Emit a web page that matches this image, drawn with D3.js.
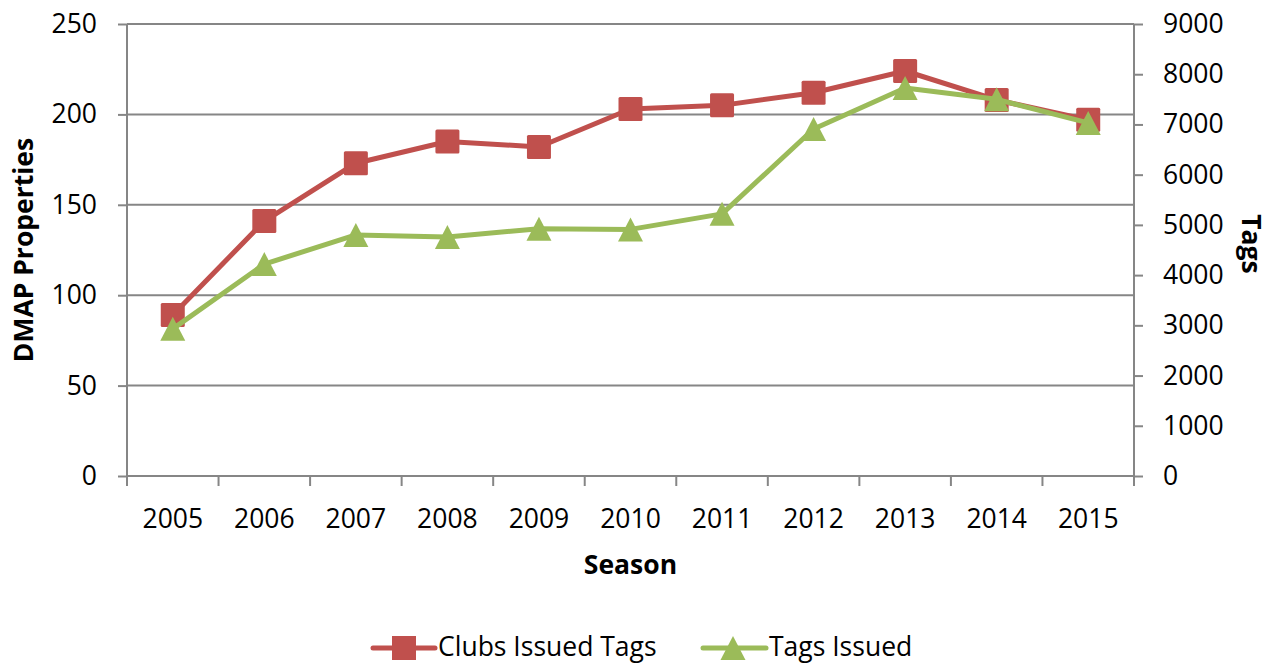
<!DOCTYPE html>
<html>
<head>
<meta charset="utf-8">
<script src="https://cdn.jsdelivr.net/npm/d3@7"></script>
<style>
  html, body { margin: 0; padding: 0; background: #fff; }
  svg { display: block; font-family: "Open Sans", "Liberation Sans", sans-serif; }
</style>
</head>
<body>
<svg id="chart" width="1276" height="664"></svg>
<script>
// Season-by-season DMAP data
const seasons = ["2005", "2006", "2007", "2008", "2009", "2010", "2011", "2012", "2013", "2014", "2015"];
const clubsIssuedTags = [89, 141, 173, 185, 182, 203, 205, 212, 224, 208, 197];
const tagsIssued = [2930, 4220, 4800, 4760, 4925, 4910, 5220, 6910, 7725, 7500, 7030];
const leftTicks = [0, 50, 100, 150, 200, 250];
const rightTicks = [0, 1000, 2000, 3000, 4000, 5000, 6000, 7000, 8000, 9000];

const RED = "#C0504D", GREEN = "#9BBB59", AXIS = "#868686";
const FONT = "26.5px";

const svg = d3.select("#chart");
const m = { left: 127, right: 1134, top: 24, bottom: 476 };

const x = d3.scaleBand().domain(seasons).range([m.left, m.right]).paddingInner(0).paddingOuter(0);
const yL = d3.scaleLinear().domain([0, 250]).range([m.bottom, m.top]);
const yR = d3.scaleLinear().domain([0, 9000]).range([m.bottom, m.top]);
const cx = d => x(d) + x.bandwidth() / 2;

// horizontal gridlines
svg.append("g").selectAll("line").data(leftTicks.filter(t => t > 0)).join("line")
  .attr("x1", m.left).attr("x2", m.right)
  .attr("y1", d => yL(d)).attr("y2", d => yL(d))
  .attr("stroke", AXIS).attr("stroke-width", 2);

// left axis
const gL = svg.append("g").attr("transform", `translate(${m.left},0)`)
  .call(d3.axisLeft(yL).tickValues(leftTicks).tickSize(9).tickPadding(21).tickFormat(d3.format("d")));
// right axis
const gR = svg.append("g").attr("transform", `translate(${m.right},0)`)
  .call(d3.axisRight(yR).tickValues(rightTicks).tickSize(9).tickPadding(20).tickFormat(d3.format("d")));
// bottom axis, tick marks sit on the band boundaries
const gB = svg.append("g").attr("transform", `translate(0,${m.bottom})`)
  .call(d3.axisBottom(x).tickSize(0).tickPadding(33));
gB.selectAll(".boundary").data(d3.range(seasons.length + 1)).join("line")
  .attr("class", "boundary")
  .attr("x1", i => m.left + i * x.bandwidth()).attr("x2", i => m.left + i * x.bandwidth())
  .attr("y1", 0).attr("y2", 10).attr("stroke", AXIS).attr("stroke-width", 2);

[gL, gR, gB].forEach(g => {
  g.selectAll(".domain").attr("stroke", AXIS).attr("stroke-width", 2);
  g.selectAll(".tick line").attr("stroke", AXIS).attr("stroke-width", 2);
  g.selectAll("text").attr("font-size", FONT).attr("fill", "#000")
    .attr("font-family", "'Open Sans', sans-serif");
});
gB.selectAll(".domain").attr("d", `M${m.left},0H${m.right}`);
gL.selectAll(".domain").attr("d", `M0,${m.top}V${m.bottom}`);
gR.selectAll(".domain").attr("d", `M0,${m.top}V${m.bottom}`);

// series lines and markers
const lineL = d3.line().x((d, i) => cx(seasons[i])).y(d => yL(d));
const lineR = d3.line().x((d, i) => cx(seasons[i])).y(d => yR(d));
const triangle = "M0,-12L12.5,12L-12.5,12Z";

svg.append("path").attr("d", lineL(clubsIssuedTags)).attr("fill", "none")
  .attr("stroke", RED).attr("stroke-width", 5).attr("stroke-linejoin", "round").attr("stroke-linecap", "round");
svg.append("g").selectAll("rect").data(clubsIssuedTags).join("rect")
  .attr("x", (d, i) => cx(seasons[i]) - 12).attr("y", d => yL(d) - 12)
  .attr("width", 24).attr("height", 24).attr("rx", 1.5).attr("fill", RED);

svg.append("path").attr("d", lineR(tagsIssued)).attr("fill", "none")
  .attr("stroke", GREEN).attr("stroke-width", 5).attr("stroke-linejoin", "round").attr("stroke-linecap", "round");
svg.append("g").selectAll("path").data(tagsIssued).join("path")
  .attr("d", triangle)
  .attr("transform", (d, i) => `translate(${cx(seasons[i])},${yR(d)})`)
  .attr("fill", GREEN);

// axis titles
svg.append("text").attr("transform", `translate(33,${(m.top + m.bottom) / 2}) rotate(-90)`)
  .attr("text-anchor", "middle").attr("font-size", FONT).attr("font-weight", "bold")
  .text("DMAP Properties");
svg.append("text").attr("transform", `translate(1242,${(m.top + m.bottom) / 2 - 6}) rotate(90)`)
  .attr("text-anchor", "middle").attr("font-size", FONT).attr("font-weight", "bold")
  .text("Tags");
svg.append("text").attr("x", (m.left + m.right) / 2).attr("y", 574)
  .attr("text-anchor", "middle").attr("font-size", FONT).attr("font-weight", "bold")
  .text("Season");

// legend
const legend = svg.append("g");
const legY = 648;
legend.append("line").attr("x1", 373).attr("x2", 435).attr("y1", legY).attr("y2", legY)
  .attr("stroke", RED).attr("stroke-width", 5).attr("stroke-linecap", "round");
legend.append("rect").attr("x", 392).attr("y", legY - 12).attr("width", 24).attr("height", 24).attr("fill", RED);
legend.append("text").attr("x", 438).attr("y", legY + 8).attr("font-size", FONT).text("Clubs Issued Tags");

legend.append("line").attr("x1", 703).attr("x2", 766).attr("y1", legY).attr("y2", legY)
  .attr("stroke", GREEN).attr("stroke-width", 5).attr("stroke-linecap", "round");
legend.append("path").attr("d", triangle)
  .attr("transform", `translate(733,${legY})`).attr("fill", GREEN);
legend.append("text").attr("x", 769).attr("y", legY + 8).attr("font-size", FONT).text("Tags Issued");
</script>
</body>
</html>
